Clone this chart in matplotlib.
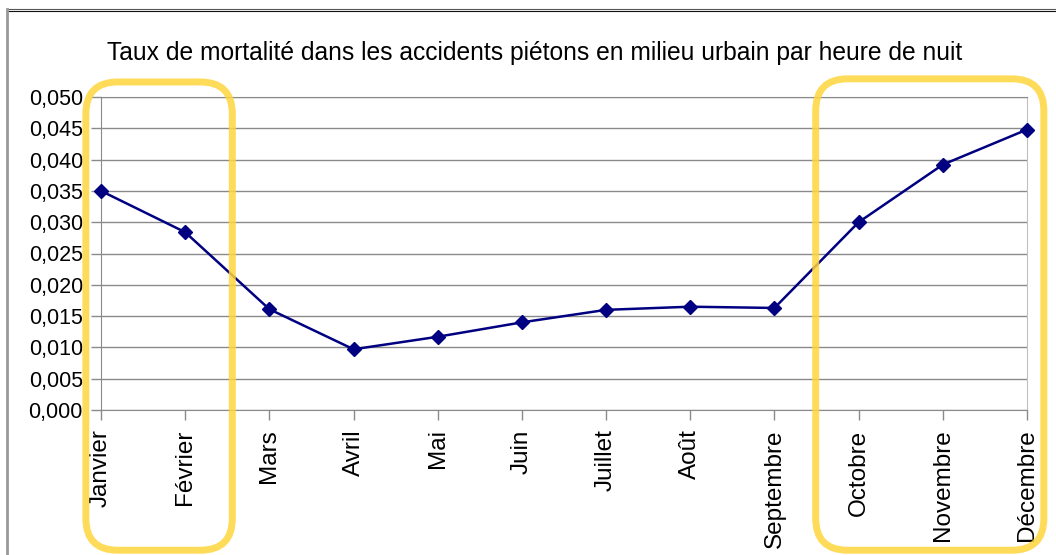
"""Night-time pedestrian fatality rate by month, with highlighted winter months."""

import matplotlib
matplotlib.use("Agg")
import matplotlib.pyplot as plt
from matplotlib.patches import FancyBboxPatch
from matplotlib.lines import Line2D
from matplotlib.transforms import IdentityTransform

plt.rcParams['font.family'] = ['Liberation Sans', 'DejaVu Sans']

months = ['Janvier', 'Février', 'Mars', 'Avril', 'Mai', 'Juin', 'Juillet',
          'Août', 'Septembre', 'Octobre', 'Novembre', 'Décembre']
rates = [0.0350, 0.0284, 0.0161, 0.0097, 0.0117, 0.0140, 0.0160,
         0.0165, 0.0163, 0.0300, 0.0392, 0.0448]
y_ticks = [0.000, 0.005, 0.010, 0.015, 0.020, 0.025, 0.030, 0.035, 0.040, 0.045, 0.050]
title = "Taux de mortalité dans les accidents piétons en milieu urbain par heure de nuit"

# highlight boxes, in data units: (x0, x1, y0, y1)
highlights = [(-0.18, 1.56, -0.0224, 0.0524),
              (8.49, 11.20, -0.0224, 0.0529)]

W, H = 1056, 555
fig = plt.figure(figsize=(W / 100, H / 100), dpi=100)
ax = fig.add_axes([101 / W, 1 - 410 / H, (1027 - 101) / W, (410 - 97) / H])

x = list(range(len(months)))
ax.plot(x, rates, color='#000080', linewidth=1.8, marker='D', markersize=7,
        zorder=3, clip_on=False)

ax.set_xlim(0, len(months) - 1)
ax.set_ylim(0, 0.05)
ax.set_yticks(y_ticks)
ax.set_yticklabels([f"{v:.3f}".replace('.', ',') for v in y_ticks], fontsize=15.5)
ax.set_xticks(x)
ax.set_xticklabels(months, rotation=90, fontsize=17.5, va='top')

ax.grid(axis='y', color='#8a8a8a', linewidth=1)
ax.set_axisbelow(True)
ax.tick_params(axis='both', direction='out', length=7, width=1, color='#8a8a8a')
ax.tick_params(axis='y', pad=6)
ax.tick_params(axis='x', pad=7)
for side in ['left', 'bottom']:
    ax.spines[side].set_color('#8a8a8a')
ax.spines['top'].set_color('#8a8a8a')
ax.spines['right'].set_color('#c0c0c0')

fig.text(535 / W, 1 - 53 / H, title, ha='center', va='center', fontsize=17.7)

# outer frame (top double line, left grey edge)
fig.add_artist(Line2D([7 / W, 1], [1 - 9 / H, 1 - 9 / H], transform=fig.transFigure,
                      color='#555555', linewidth=0.8))
fig.add_artist(Line2D([7 / W, 1], [1 - 11 / H, 1 - 11 / H], transform=fig.transFigure,
                      color='#111111', linewidth=0.8))
fig.add_artist(Line2D([7 / W, 7 / W], [0, 1 - 9 / H], transform=fig.transFigure,
                      color='#999999', linewidth=2))

# yellow rounded boxes drawn in pixel space so the corners stay round
fig.canvas.draw()
for x0, x1, y0, y1 in highlights:
    (px0, py0), (px1, py1) = ax.transData.transform([(x0, y0), (x1, y1)])
    box = FancyBboxPatch((px0, py0), px1 - px0, py1 - py0,
                         boxstyle="round,pad=0,rounding_size=32",
                         transform=IdentityTransform(), fill=False,
                         edgecolor='#FFD53D', linewidth=5, alpha=0.85, zorder=5)
    fig.add_artist(box)

plt.savefig('out.png', dpi=100)
plt.close()
